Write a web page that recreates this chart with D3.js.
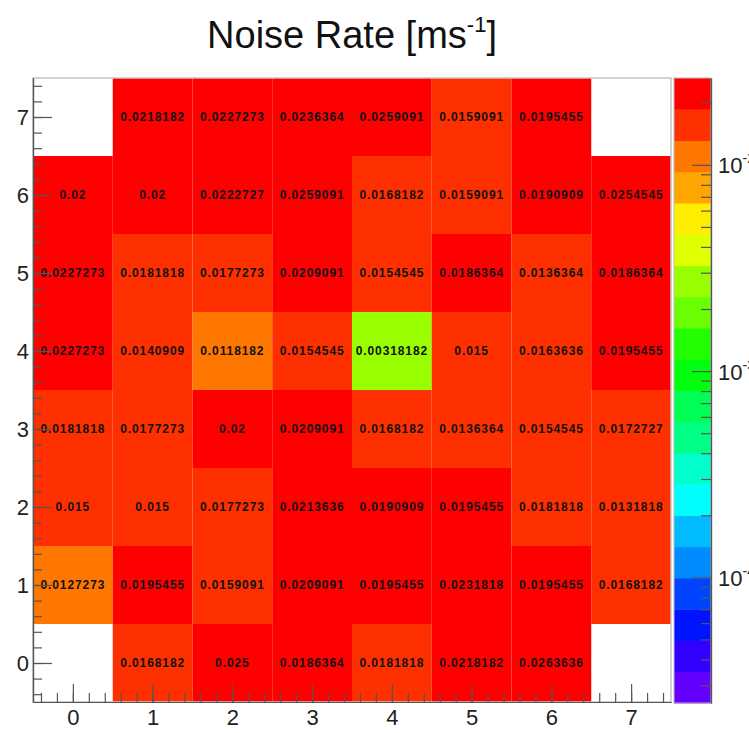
<!DOCTYPE html>
<html>
<head>
<meta charset="utf-8">
<script src="https://cdn.jsdelivr.net/npm/d3@7"></script>
<style>
  body { margin: 0; background: #fff; }
  svg { display: block; font-family: "Liberation Sans", Arial, sans-serif; }
</style>
</head>
<body>
<svg id="chart" width="749" height="733"></svg>
<script>
// ---------------------------//
//            DATA            //
// ---------------------------//

// bin centres on both axes
var xBins = [0, 1, 2, 3, 4, 5, 6, 7];
var yBins = [0, 1, 2, 3, 4, 5, 6, 7];

// noise rate per row (y), one value per x bin; null = empty bin
var row0 = [null, 0.0168182, 0.025, 0.0186364, 0.0181818, 0.0218182, 0.0263636, null];
var row1 = [0.0127273, 0.0195455, 0.0159091, 0.0209091, 0.0195455, 0.0231818, 0.0195455, 0.0168182];
var row2 = [0.015, 0.015, 0.0177273, 0.0213636, 0.0190909, 0.0195455, 0.0181818, 0.0131818];
var row3 = [0.0181818, 0.0177273, 0.02, 0.0209091, 0.0168182, 0.0136364, 0.0154545, 0.0172727];
var row4 = [0.0227273, 0.0140909, 0.0118182, 0.0154545, 0.00318182, 0.015, 0.0163636, 0.0195455];
var row5 = [0.0227273, 0.0181818, 0.0177273, 0.0209091, 0.0154545, 0.0186364, 0.0136364, 0.0186364];
var row6 = [0.02, 0.02, 0.0222727, 0.0259091, 0.0168182, 0.0159091, 0.0190909, 0.0254545];
var row7 = [null, 0.0218182, 0.0227273, 0.0236364, 0.0259091, 0.0159091, 0.0195455, null];

var rows = [row0, row1, row2, row3, row4, row5, row6, row7];

// colour axis tick labels (exponents of 10)
var zExponents = [-2, -3, -4];

var cells = [];
rows.forEach(function(r, j) {
  r.forEach(function(v, i) {
    if (v !== null) cells.push({ x: xBins[i], y: yBins[j], v: v });
  });
});

// ---------------------------//
//         DIMENSIONS         //
// ---------------------------//

var frame = { left: 33, right: 671, top: 78, bottom: 702 };
var bar = { left: 674, right: 711, top: 78, bottom: 703 };

var svg = d3.select("#chart");

// ---------------------------//
//       AXIS  AND SCALE      //
// ---------------------------//

var x = d3.scaleLinear().domain([-0.5, 7.5]).range([frame.left, frame.right]);
var y = d3.scaleLinear().domain([-0.5, 7.5]).range([frame.bottom, frame.top]);

// log colour range: top = maximum bin, ~3 decades below
var zMax = d3.max(cells, d => d.v);
var zMin = zMax * Math.pow(10, -3.03);
var nLevels = 20;

// ROOT "pretty" palette: 50 hues from violet to red, 20 contour levels picked from it
var palette = d3.range(nLevels).map(function(k) {
  var j = Math.floor((k + 0.99) * 50 / nLevels);
  return d3.hsl(280 - (j + 1) * 5.6, 1, 0.5).formatHex();
});

var color = d3.scaleQuantize()
  .domain([Math.log10(zMin), Math.log10(zMax)])
  .range(palette);

var z = d3.scaleLog().domain([zMin, zMax]).range([bar.bottom, bar.top]);

// ---------------------------//
//           DRAWING          //
// ---------------------------//

svg.append("g")
  .selectAll("rect")
  .data(cells)
  .enter().append("rect")
  .attr("x", d => x(d.x - 0.5))
  .attr("y", d => y(d.y + 0.5))
  .attr("width", d => x(d.x + 0.5) - x(d.x - 0.5))
  .attr("height", d => y(d.y - 0.5) - y(d.y + 0.5))
  .attr("fill", d => color(Math.log10(d.v)));

svg.append("g")
  .selectAll("text")
  .data(cells)
  .enter().append("text")
  .attr("x", d => x(d.x))
  .attr("y", d => y(d.y))
  .attr("dy", "0.36em")
  .attr("text-anchor", "middle")
  .style("font-size", "12px")
  .style("font-weight", "bold")
  .style("letter-spacing", "0.9px")
  .attr("fill", "#111")
  .text(d => String(d.v));

// frame
svg.append("rect")
  .attr("x", frame.left)
  .attr("y", frame.top)
  .attr("width", frame.right - frame.left)
  .attr("height", frame.bottom - frame.top)
  .attr("fill", "none")
  .attr("stroke", "#c4c4c4")
  .attr("stroke-width", 1.5);

// minor ticks every 0.2
var minor = d3.range(-0.4, 7.5, 0.2).map(v => Math.round(v * 10) / 10);

function styleAxis(g) {
  g.selectAll("path.domain").attr("stroke", "#555").attr("stroke-width", 1.2);
  g.selectAll(".tick line").attr("stroke", "#555").attr("stroke-width", 1.2);
  g.selectAll("text")
    .attr("fill", "#222")
    .style("font-size", "22px")
    .style("font-family", "'Liberation Sans', Arial, sans-serif");
}

// x axis
svg.append("g")
  .attr("transform", "translate(0," + frame.bottom + ")")
  .call(d3.axisBottom(x).tickValues(minor).tickSize(-9).tickSizeOuter(0).tickFormat(""))
  .call(styleAxis);

svg.append("g")
  .attr("transform", "translate(0," + frame.bottom + ")")
  .call(d3.axisBottom(x).tickValues(xBins).tickSizeInner(-18).tickSizeOuter(0).tickPadding(7))
  .call(styleAxis);

// y axis
svg.append("g")
  .attr("transform", "translate(" + frame.left + ",0)")
  .call(d3.axisLeft(y).tickValues(minor).tickSize(-9).tickSizeOuter(0).tickFormat(""))
  .call(styleAxis);

svg.append("g")
  .attr("transform", "translate(" + frame.left + ",0)")
  .call(d3.axisLeft(y).tickValues(yBins).tickSizeInner(-19).tickSizeOuter(0).tickPadding(4))
  .call(styleAxis);

// ---------------------------//
//         COLOUR BAR         //
// ---------------------------//

var levels = d3.range(nLevels);
var levelH = (bar.bottom - bar.top) / nLevels;

svg.append("g")
  .selectAll("rect")
  .data(levels)
  .enter().append("rect")
  .attr("x", bar.left)
  .attr("y", d => bar.bottom - (d + 1) * levelH)
  .attr("width", bar.right - bar.left)
  .attr("height", levelH + 0.5)
  .attr("fill", d => palette[d]);

svg.append("rect")
  .attr("x", bar.left)
  .attr("y", bar.top)
  .attr("width", bar.right - bar.left)
  .attr("height", bar.bottom - bar.top)
  .attr("fill", "none")
  .attr("stroke", "#bbb")
  .attr("stroke-width", 1);

var zMinor = [];
[-5, -4, -3, -2].forEach(function(e) {
  d3.range(2, 10).forEach(function(m) {
    var v = m * Math.pow(10, e);
    if (v > zMin && v < zMax) zMinor.push(v);
  });
});
var zMajor = zExponents.map(e => Math.pow(10, e));

var zAxisG = svg.append("g").attr("transform", "translate(" + bar.right + ",0)");

zAxisG.append("g")
  .call(d3.axisRight(z).tickValues(zMinor).tickSize(-10).tickSizeOuter(0).tickFormat(""))
  .call(styleAxis);

var zMajorG = zAxisG.append("g")
  .call(d3.axisRight(z).tickValues(zMajor).tickSizeInner(-19).tickSizeOuter(0).tickPadding(7).tickFormat(""))
  .call(styleAxis);

zMajorG.selectAll(".tick").each(function(d, i) {
  var t = d3.select(this).append("text")
    .attr("x", 7)
    .attr("dy", "0.36em")
    .attr("fill", "#222")
    .style("font-size", "22px");
  t.append("tspan").text("10");
  t.append("tspan")
    .attr("dy", "-0.7em")
    .style("font-size", "14px")
    .text(String(zExponents[i]));
});

// ---------------------------//
//            TITLE           //
// ---------------------------//

var title = svg.append("text")
  .attr("x", (frame.left + frame.right) / 2)
  .attr("y", 48)
  .attr("text-anchor", "middle")
  .attr("fill", "#111")
  .style("font-size", "38px");

title.append("tspan").text("Noise Rate [ms");
title.append("tspan").attr("dy", "-16").style("font-size", "22px").text("-1");
title.append("tspan").attr("dy", "16").text("]");
</script>
</body>
</html>
